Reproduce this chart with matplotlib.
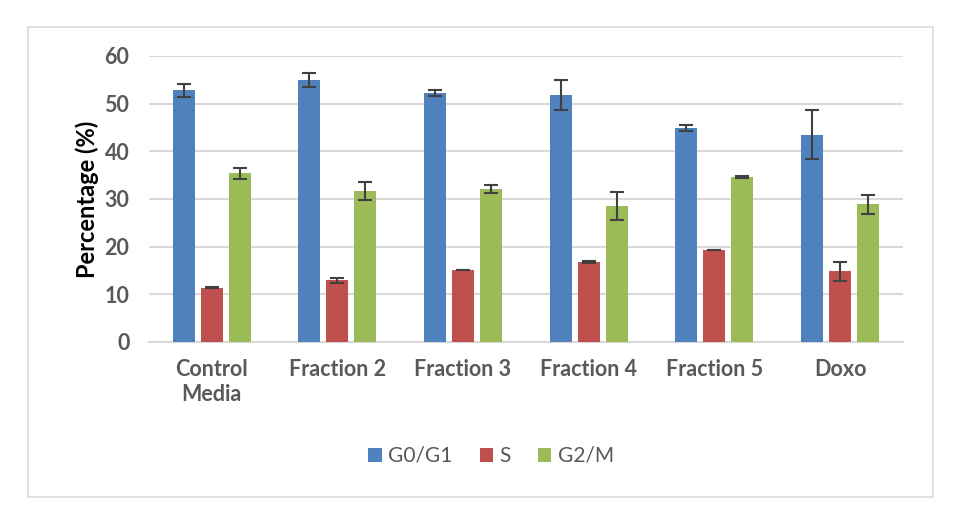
import matplotlib.pyplot as plt
import numpy as np
from matplotlib.patches import Rectangle

# -----------------------------
# Data
# -----------------------------
categories = ["Control\nMedia", "Fraction 2", "Fraction 3", "Fraction 4", "Fraction 5", "Doxo"]
series_names = ["G0/G1", "S", "G2/M"]

g0g1 = [52.8, 55.0, 52.2, 51.8, 44.9, 43.5]
g0g1_err = [1.3, 1.5, 0.6, 3.1, 0.7, 5.2]

s_phase = [11.4, 12.9, 15.1, 16.7, 19.3, 14.8]
s_err = [0.1, 0.6, 0.1, 0.2, 0.1, 2.0]

g2m = [35.4, 31.7, 32.1, 28.5, 34.6, 28.9]
g2m_err = [1.2, 1.9, 0.8, 2.9, 0.2, 2.0]

colors = ["#4F81BD", "#C0504D", "#9BBB59"]

# -----------------------------
# Plot
# -----------------------------
plt.rcParams["font.family"] = ["Lato", "DejaVu Sans"]

fig = plt.figure(figsize=(9.54, 5.18), dpi=100)
ax = fig.add_axes([0.156, 0.3398, 0.7905, 0.5521])

x = np.arange(len(categories))
width = 0.175
offset = 0.223

for i, (vals, errs) in enumerate([(g0g1, g0g1_err), (s_phase, s_err), (g2m, g2m_err)]):
    ax.bar(x + (i - 1) * offset, vals, width, color=colors[i], label=series_names[i],
           yerr=errs, error_kw=dict(ecolor="#404040", elinewidth=1.5, capsize=5, capthick=1.5),
           zorder=3)

ax.set_xlim(-0.5, len(categories) - 0.5)
ax.set_ylim(0, 60)
ax.set_yticks(range(0, 61, 10))
ax.set_xticks(x)
ax.set_xticklabels(categories, fontsize=15.5, fontweight="bold", color="#595959",
                   linespacing=1.25)
ax.tick_params(axis="y", labelsize=15.5, labelcolor="#595959", length=0, pad=14)
ax.tick_params(axis="x", length=0, pad=12)
for lab in ax.get_yticklabels():
    lab.set_fontweight("bold")

ax.grid(axis="y", color="#D9D9D9", linewidth=1.5, zorder=0)
for side in ["top", "right", "left"]:
    ax.spines[side].set_visible(False)
ax.spines["bottom"].set_color("#D9D9D9")
ax.spines["bottom"].set_linewidth(1.5)

ax.set_ylabel("Percentage (%)", fontsize=17, fontweight="bold", color="black", labelpad=4)

fig.legend(*ax.get_legend_handles_labels(), loc="center",
           bbox_to_anchor=(491 / 954, 1 - 456 / 518), ncol=3, frameon=False,
           fontsize=15, labelcolor="#595959", handlelength=0.65, handleheight=0.65,
           handletextpad=0.3, columnspacing=1.3)

# outer chart border
fig.patches.append(Rectangle((28 / 954, 1 - 497 / 518), (933 - 28) / 954, (497 - 27) / 518,
                             transform=fig.transFigure, fill=False,
                             edgecolor="#D9D9D9", linewidth=1.2))

fig.savefig("out.png", dpi=100)
